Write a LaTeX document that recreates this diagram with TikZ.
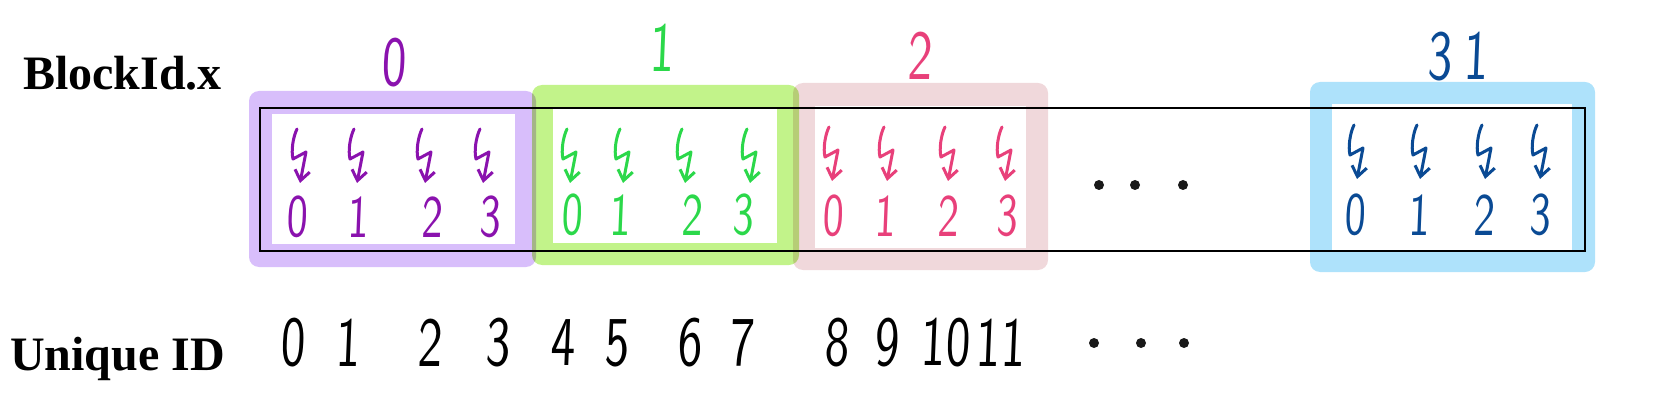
\documentclass[tikz,border=0pt]{standalone}
\usepackage{fontspec}
\newfontfamily\headfont{Liberation Serif}
\newfontfamily\handfont[FakeStretch=0.7,FakeSlant=0.04]{lmsans10-regular.otf}
\usetikzlibrary{arrows.meta}
\definecolor{lilac}{HTML}{D8BEFB}
\definecolor{plum}{HTML}{8A12AE}
\definecolor{lime}{HTML}{C2F38A}
\definecolor{leaf}{HTML}{2BD84A}
\definecolor{blush}{HTML}{F0D8DB}
\definecolor{rose}{HTML}{E8407A}
\definecolor{sky}{HTML}{AEE2FB}
\definecolor{navy}{HTML}{0A4A94}
\tikzset{%
  heading/.style  = {font=\headfont\bfseries\fontsize{48}{48}\selectfont,%
                     anchor=base west, inner sep=0pt},%
  hand/.style     = {font=\handfont\fontsize{60}{60}\selectfont, inner sep=0pt},%
  bighand/.style  = {hand, font=\handfont\fontsize{70}{70}\selectfont},%
  blockbox/.style = {rounded corners=10pt, blend mode=multiply},%
  inkdot/.style   = {circle, fill=black!90, inner sep=0pt, minimum size=10pt},%
  zap/.pic        = {\draw[line width=3pt, line cap=round, line join=round,%
                       -{Straight Barb[length=10pt,width=15pt]}]
                       (-3,0) .. controls (-7,8) and (-9,22) .. (-7,30)
                       -- (6,23) -- (0,54);}%
}
\begin{document}
\begin{tikzpicture}[x=1pt,y=-1pt]
  \useasboundingbox (0,0) rectangle (1667,414);
  % blocks
  \fill[blockbox, lilac] (249,91) rectangle (536,267);
  \fill[blockbox, lime]  (532,85) rectangle (799,265);
  \fill[blockbox, blush] (793,83) rectangle (1048,270);
  \fill[blockbox, sky]   (1310,82) rectangle (1595,272);
  \fill[white] (272,114) rectangle (515,244);
  \fill[white] (553,108) rectangle (777,243);
  \fill[white] (815,106) rectangle (1026,248);
  \fill[white] (1332,104) rectangle (1572,250);
  \draw[line width=2.5pt] (260,108) rectangle (1585,251);
  % labels
  \node[heading] (blockid) at (23,90) {BlockId.x};
  \node[heading] (uniqueid) at (10,370) {Unique ID};
  \node[bighand, text=plum] (bx0) at (394,63) {0};
  \node[bighand, text=leaf] (bx1) at (662,48) {1};
  \node[bighand, text=rose] (bx2) at (920,56) {2};
  \node[bighand, text=navy] (bx31) at (1458,57) {3\,1};
  % threads
  \foreach \x in {300,357,425,483} \pic[plum] at (\x,129) {zap};
  \foreach \x in {570,623,685,750} \pic[leaf] at (\x,129) {zap};
  \foreach \x in {832,887,948,1005} \pic[rose] at (\x,127) {zap};
  \foreach \x in {1357,1420,1485,1540} \pic[navy] at (\x,125) {zap};
  \foreach \x [count=\i from 0] in {297,358,432,490}
    \node[hand, text=plum] (p\i) at (\x,217) {\i};
  \foreach \x [count=\i from 0] in {572,620,692,743}
    \node[hand, text=leaf] (g\i) at (\x,215) {\i};
  \foreach \x [count=\i from 0] in {833,885,948,1007}
    \node[hand, text=rose] (r\i) at (\x,216) {\i};
  \foreach \x [count=\i from 0] in {1355,1419,1484,1540}
    \node[hand, text=navy] (b\i) at (\x,215) {\i};
  \foreach \x [count=\i] in {1099,1135,1183}
    \node[inkdot] (gap\i) at (\x,185) {};
  % unique ids
  \foreach \x [count=\i from 0] in {293,348,430,498,563,617,690,742,837,887,945,1000}
    \node[bighand] (uid\i) at (\x,343) {\i};
  \foreach \x [count=\i] in {1094,1141,1184}
    \node[inkdot] (more\i) at (\x,343) {};
\end{tikzpicture}
\end{document}
